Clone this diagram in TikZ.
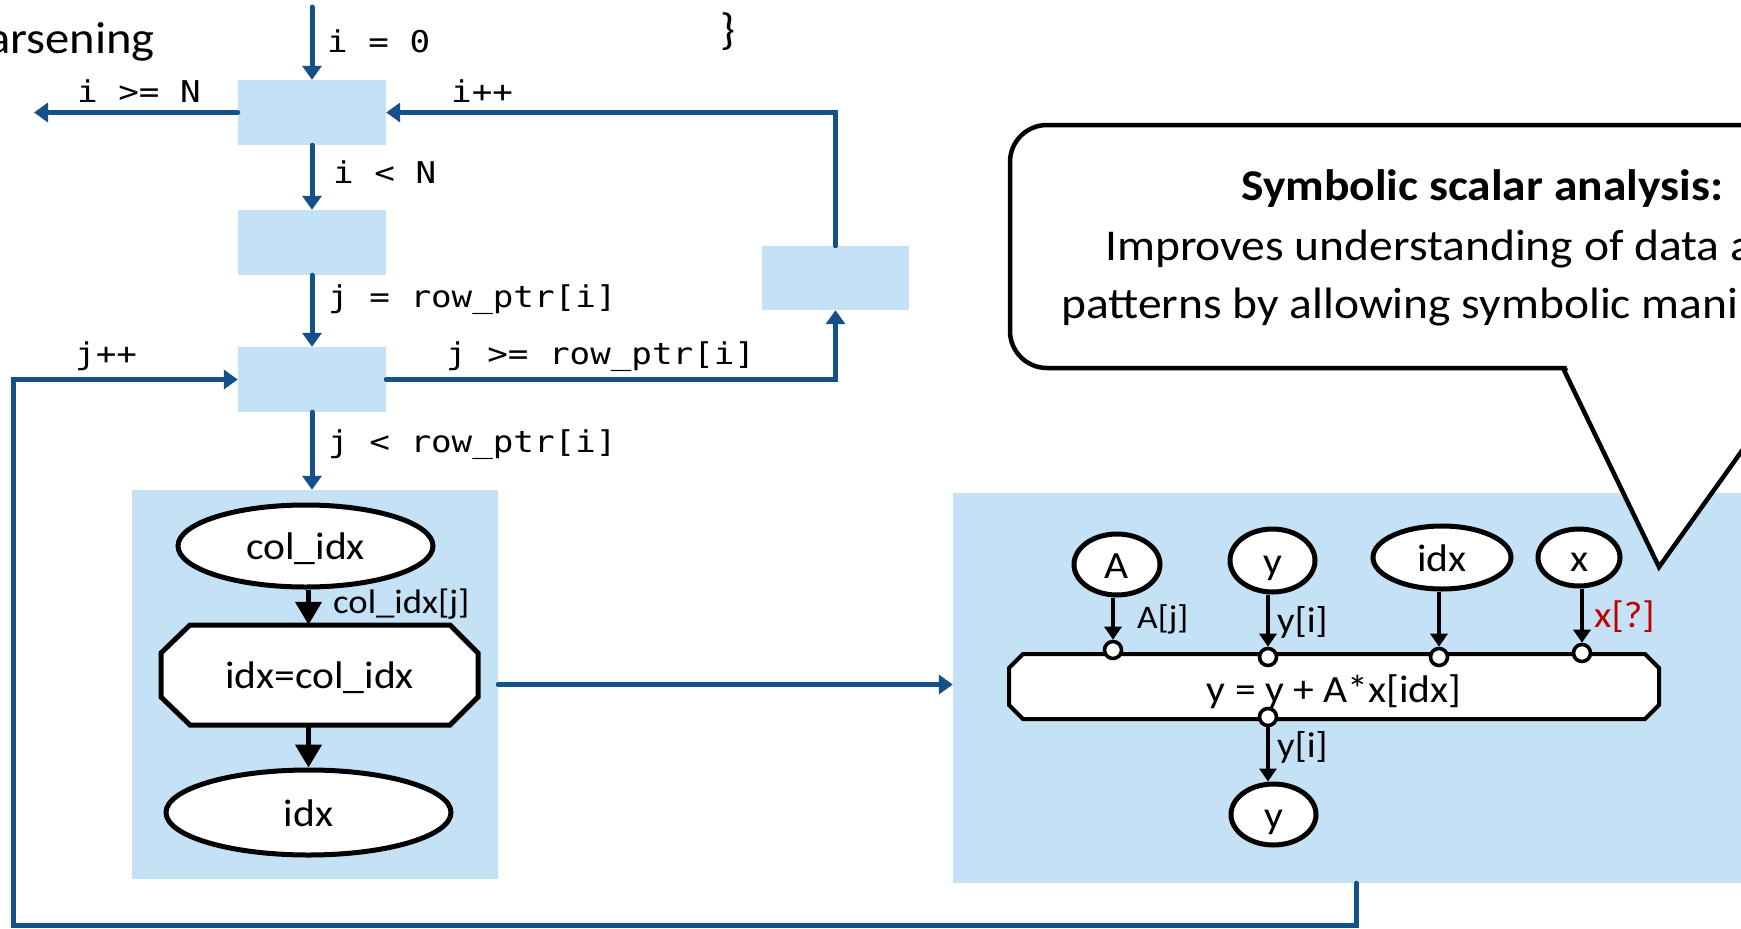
\documentclass[tikz,border=0pt]{standalone}
\usepackage{fontspec}
\setmainfont{Carlito}[FakeStretch=1.08]
\newfontfamily\codefont{DejaVu Sans Mono}[FakeStretch=1.14]
\usetikzlibrary{arrows.meta,shapes.geometric,calc}
\definecolor{flowblue}{RGB}{22,80,136}
\definecolor{panelblue}{RGB}{197,225,245}
\definecolor{warnred}{RGB}{192,0,0}
\newcommand\fsz[1]{\fontsize{#1}{#1}\selectfont}

\begin{document}
\begin{tikzpicture}[x=1pt,y=-1pt,
  flow/.style={draw=flowblue, line width=5pt, line cap=round, -{Triangle[width=19pt,length=14pt]}},
  block/.style={rectangle, fill=panelblue, draw=none, inner sep=0pt},
  code/.style={inner sep=0pt, anchor=base west, font=\codefont\fsz{30}},
  var/.style={ellipse, draw=black, fill=white, line width=5pt, inner sep=0pt, text height=27pt, text depth=0pt, font=\fsz{38.5}},
  port/.style={circle, draw=black, fill=white, line width=3.6pt, minimum size=17pt, inner sep=0pt},
  dep/.style={draw=black, line width=3.4pt, -{Triangle[width=17pt,length=13pt]}},
  depbig/.style={draw=black, line width=4.5pt, -{Triangle[width=26pt,length=23pt]}},
  elabel/.style={inner sep=0pt, anchor=base west},
  plain/.style={inner sep=0pt, anchor=base west},
  opbox/.style={draw=black, fill=white, line join=miter},
]
% page
\fill[white] (0,0) rectangle (1741,929);
\useasboundingbox (0,0) rectangle (1741,929);
\clip (0,0) rectangle (1741,929);

% heading fragments
\node[plain, font=\fsz{45}] (heading) at (-13,53) {arsening};
\node[plain, font=\fsz{44}] (brace) at (720,44) {\}};

% loop blocks
\node[block, minimum width=148pt, minimum height=65pt] (b1) at (312,112.5) {};
\node[block, minimum width=148pt, minimum height=65pt] (b2) at (312,242.5) {};
\node[block, minimum width=148pt, minimum height=65pt] (b3) at (312,379.5) {};
\node[block, minimum width=147pt, minimum height=64pt] (b4) at (835.5,278) {};

% body panels
\node[block, minimum width=366pt, minimum height=389pt] (lp) at (315,684.5) {};
\node[block, minimum width=807pt, minimum height=390pt] (rp) at (1356.5,688) {};

% control flow
\coordinate (entry) at (312,7);
\coordinate (exit) at (34,112.5);
\coordinate (loopcorner) at (13,925);
\draw[flow] (entry) -- (b1.north);
\draw[flow] (b1.west) -- (exit);
\draw[flow] (b1.south) -- (b2.north);
\draw[flow] (b2.south) -- (b3.north);
\draw[flow] (b3.south) -- (b3.south |- lp.north);
\draw[flow] (b3.east) -- (b3.east -| b4.south) -- (b4.south);
\draw[flow] (b4.north) -- (b4.north |- b1.east) -- (b1.east);
\draw[flow] (rp.south) |- (loopcorner) |- (b3.west);
\draw[flow] (lp.east) -- (lp.east -| rp.west);

% branch conditions
\node[code] (c1) at (327,52) {i = 0};
\node[code] (c2) at (77,102) {i >= N};
\node[code] (c3) at (451,102) {i++};
\node[code] (c4) at (333,183) {i < N};
\node[code] (c5) at (328,307) {j = row\_ptr[i]};
\node[code] (c6) at (75,364) {j++};
\node[code] (c7) at (446,364) {j >= row\_ptr[i]};
\node[code] (c8) at (328,452) {j < row\_ptr[i]};

% left body: index load
\node[var, minimum width=255pt, minimum height=82pt] (ci) at (305.5,546) {col\_idx};
\draw[opbox, line width=5pt] (190,625) -- (450,625) -- (478,653) -- (478,697) -- (450,725) -- (190,725) -- (161,697) -- (161,653) -- cycle;
\node[inner sep=0pt, minimum width=317pt, minimum height=100pt, text height=27pt, text depth=0pt, font=\fsz{38.5}] (cp) at (319.5,675) {idx=col\_idx};
\node[var, minimum width=285pt, minimum height=85pt] (ix) at (308.5,812.5) {idx};
\draw[depbig] (ci.south -| ix.north) -- (ix.north |- cp.north);
\draw[depbig] (ix.north |- cp.south) -- (ix.north);
\node[elabel, font=\fsz{34}] (cil) at (333,613) {col\_idx[j]};

% right body: multiply-accumulate
\draw[opbox, line width=4pt] (1023,654) -- (1645,654) -- (1659,668) -- (1659,705) -- (1645,719) -- (1023,719) -- (1009,705) -- (1009,668) -- cycle;
\node[inner sep=0pt, anchor=base, font=\fsz{38.5}] (opl) at (1334,702) {y = y + A*x[idx]};

\node[var, minimum width=86pt, minimum height=61pt] (va) at (1117,564.5) {A};
\node[var, minimum width=85pt, minimum height=63pt] (vy) at (1272.5,560.5) {y};
\node[var, minimum width=138pt, minimum height=63pt] (vi) at (1442,557.5) {idx};
\node[var, minimum width=82pt, minimum height=57pt] (vx) at (1579,557.5) {x};
\node[var, minimum width=85pt, minimum height=61pt] (vo) at (1273.5,814.5) {y};

\node[port] (pa) at (1113,650) {};
\node[port] (py) at (1268,657) {};
\node[port] (pi) at (1439,657) {};
\node[port] (px) at (1582,653) {};
\node[port] (po) at (1268,717) {};

\draw[dep] (pa.north |- va.south) -- (pa.north);
\draw[dep] (py.north |- vy.south) -- (py.north);
\draw[dep] (pi.north |- vi.south) -- (pi.north);
\draw[dep] (px.north |- vx.south) -- (px.north);
\draw[dep] (po.south) -- (po.south |- vo.north);

\node[elabel, font=\fsz{33}] (la) at (1137,628) {A[j]};
\node[elabel, font=\fsz{36}] (ly) at (1277,632) {y[i]};
\node[elabel, font=\fsz{37}, text=warnred] (lx) at (1594,627) {x[?]};
\node[elabel, font=\fsz{36}] (lo) at (1277,757) {y[i]};

% speech bubble
\draw[line width=4.5pt, fill=white, rounded corners=37pt] (1010,125) rectangle (2000,368);
\fill[white] (1565,363) -- (1659,565) -- (1799,363) -- cycle;
\draw[line width=4.5pt, line join=miter] (1563,368) -- (1659,567) -- (1801,368);
\node[plain, font=\bfseries\fsz{44}] (t1) at (1241,200) {Symbolic scalar analysis:};
\node[plain, font=\fsz{44}] (t2) at (1105,260) {Improves understanding of data a};
\node[plain, font=\fsz{44}] (t3) at (1061,318) {patterns by allowing symbolic mani};
\end{tikzpicture}
\end{document}
